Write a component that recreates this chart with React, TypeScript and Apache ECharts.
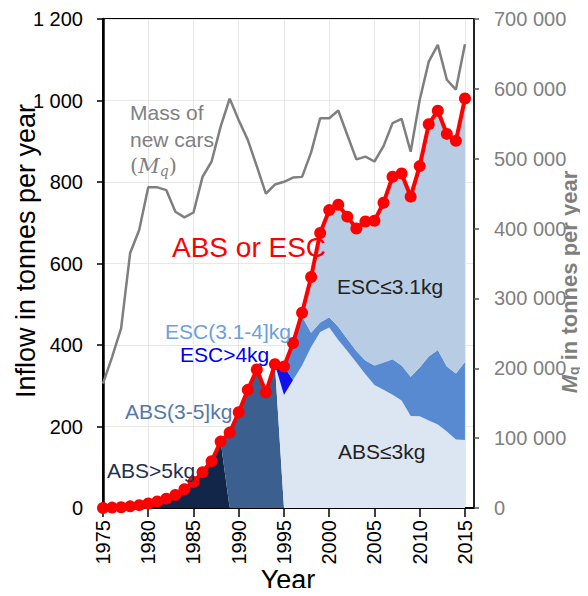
import React, { useEffect, useRef } from "react";
import * as echarts from "echarts";

// x-axis categories (the plot runs one step past the last data year)
const axisYears = [
  "1975", "1976", "1977", "1978", "1979", "1980", "1981", "1982", "1983", "1984",
  "1985", "1986", "1987", "1988", "1989", "1990", "1991", "1992", "1993", "1994",
  "1995", "1996", "1997", "1998", "1999", "2000", "2001", "2002", "2003", "2004",
  "2005", "2006", "2007", "2008", "2009", "2010", "2011", "2012", "2013", "2014",
  "2015", "2016",
];

// Total inflow of ABS or ESC (tonnes per year), 1975–2015
const totalAbsEsc = [
  0, 1, 2, 4, 7, 11, 16, 23, 32, 46,
  64, 88, 115, 163, 185, 235, 290, 340, 284, 353,
  347, 405, 479, 567, 675, 731, 744, 715, 686, 703,
  705, 749, 813, 821, 764, 839, 942, 975, 918, 901, 1005,
];

const absOver5 = [
  0, 1, 2, 4, 7, 11, 16, 23, 32, 46,
  64, 88, 115, 163, 0, 0, 0, 0, 0, 0,
  0, 0, 0, 0, 0, 0, 0, 0, 0, 0,
  0, 0, 0, 0, 0, 0, 0, 0, 0, 0, 0,
];

const abs3to5 = [
  0, 0, 0, 0, 0, 0, 0, 0, 0, 0,
  0, 0, 0, 0, 185, 235, 290, 340, 284, 353,
  0, 0, 0, 0, 0, 0, 0, 0, 0, 0,
  0, 0, 0, 0, 0, 0, 0, 0, 0, 0, 0,
];

const absUnder3 = [
  0, 0, 0, 0, 0, 0, 0, 0, 0, 0,
  0, 0, 0, 0, 0, 0, 0, 0, 0, 0,
  277, 314, 350, 395, 432, 443, 412, 385, 357, 328,
  302, 290, 278, 264, 226, 225, 215, 205, 188, 168, 167,
];

const escOver4 = [
  0, 0, 0, 0, 0, 0, 0, 0, 0, 0,
  0, 0, 0, 0, 0, 0, 0, 0, 0, 0,
  70, 0, 0, 0, 0, 0, 0, 0, 0, 0,
  0, 0, 0, 0, 0, 0, 0, 0, 0, 0, 0,
];

const esc3to4 = [
  0, 0, 0, 0, 0, 0, 0, 0, 0, 0,
  0, 0, 0, 0, 0, 0, 0, 0, 0, 0,
  0, 91, 120, 35, 23, 25, 33, 30, 28, 34,
  48, 67, 87, 86, 96, 120, 157, 183, 159, 162, 191,
];

const escUnder3 = [
  0, 0, 0, 0, 0, 0, 0, 0, 0, 0,
  0, 0, 0, 0, 0, 0, 0, 0, 0, 0,
  0, 0, 9, 137, 220, 263, 299, 300, 301, 341,
  355, 392, 448, 471, 442, 494, 570, 587, 571, 571, 647,
];

// Mass of new cars (tonnes per year, right axis)
const massNewCars = [
  178000, 216000, 257000, 365000, 398000, 459000, 459000, 455000, 424000, 416000,
  423000, 474000, 496000, 546000, 586000, 555000, 527000, 489000, 450000, 463000,
  467000, 473000, 474000, 509000, 558000, 558000, 569000, 534000, 499000, 503000,
  496000, 518000, 551000, 557000, 510000, 584000, 639000, 663000, 613000, 599000, 664000,
];

const FONT = "'Liberation Sans', Arial, Helvetica, sans-serif";

const fmt = (v: number) => String(v).replace(/\B(?=(\d{3})+(?!\d))/g, " ");

export default function App() {
  const ref = useRef<HTMLDivElement>(null);

  useEffect(() => {
    if (!ref.current) return;
    const chart = echarts.init(ref.current, undefined, { renderer: "svg" });

    const area = (name: string, vals: number[], color: string) => ({
      name,
      type: "line",
      stack: "inflow",
      data: vals,
      symbol: "none",
      showSymbol: false,
      lineStyle: { width: 0, color, opacity: 0 },
      itemStyle: { color },
      areaStyle: { color, opacity: 1 },
      z: 1,
    });

    const txt = (text: string, x: number, y: number, fill: string, size: number) => ({
      type: "text",
      x,
      y,
      z: 100,
      style: {
        text,
        fill,
        font: `${size}px ${FONT}`,
        textAlign: "left",
        textVerticalAlign: "middle",
      },
    });

    const grayRich = (size: number, extra: any = {}) => ({
      fontSize: size,
      fontWeight: "bold",
      fontFamily: FONT,
      fill: "#7f7f7f",
      color: "#7f7f7f",
      lineHeight: 24,
      ...extra,
    });

    chart.setOption({
      animation: false,
      backgroundColor: "#fff",
      grid: {
        left: 103,
        right: 114,
        top: 19,
        bottom: 88,
        show: true,
        borderColor: "#000",
        borderWidth: 2,
        backgroundColor: "transparent",
      },
      xAxis: {
        type: "category",
        data: axisYears,
        boundaryGap: false,
        axisLine: { show: true, lineStyle: { color: "#000", width: 2 } },
        axisTick: { show: true, interval: 4, length: 9, lineStyle: { color: "#000", width: 1.5 } },
        axisLabel: {
          interval: 4,
          rotate: 90,
          margin: 12,
          fontSize: 20,
          color: "#000",
          fontFamily: FONT,
        },
        splitLine: { show: true, interval: 4, lineStyle: { color: "#e8e8e8", width: 1 } },
      },
      yAxis: [
        {
          type: "value",
          position: "left",
          min: 0,
          max: 1200,
          interval: 200,
          axisLine: { show: true, lineStyle: { color: "#000", width: 2.5 } },
          axisTick: { show: true, length: 6, lineStyle: { color: "#000", width: 1.5 } },
          axisLabel: { margin: 20, fontSize: 20, color: "#000", fontFamily: FONT, formatter: fmt },
          splitLine: { show: true, lineStyle: { color: "#e8e8e8", width: 1 } },
        },
        {
          type: "value",
          position: "right",
          min: 0,
          max: 700000,
          interval: 100000,
          axisLine: { show: true, lineStyle: { color: "#222", width: 2 } },
          axisTick: { show: true, length: 5, lineStyle: { color: "#555", width: 1.5 } },
          axisLabel: { margin: 20, fontSize: 20, color: "#7f7f7f", fontFamily: FONT, formatter: fmt },
          splitLine: { show: false },
        },
      ],
      series: [
        area("ABS>5kg", absOver5, "#12264a"),
        area("ABS(3-5]kg", abs3to5, "#3b5f8e"),
        area("ABS≤3kg", absUnder3, "#dce6f2"),
        area("ESC>4kg", escOver4, "#1010f0"),
        area("ESC(3.1-4]kg", esc3to4, "#588ad2"),
        area("ESC≤3.1kg", escUnder3, "#b8cce4"),
        {
          name: "Mass of new cars",
          type: "line",
          yAxisIndex: 1,
          data: massNewCars,
          symbol: "none",
          showSymbol: false,
          lineStyle: { color: "#7f7f7f", width: 2.5 },
          itemStyle: { color: "#7f7f7f" },
          z: 3,
        },
        {
          name: "ABS or ESC",
          type: "line",
          data: totalAbsEsc,
          symbol: "circle",
          symbolSize: 12,
          showAllSymbol: true,
          lineStyle: { color: "#ff0000", width: 4 },
          itemStyle: { color: "#ff0000" },
          z: 4,
        },
      ],
      graphic: [
        txt("Mass of", 130, 112, "#808080", 21),
        txt("new cars", 130, 139, "#808080", 21),
        {
          type: "text",
          x: 130,
          y: 166,
          z: 100,
          style: {
            text: "{p|(}{m|M}{q|q}{p|)}",
            textVerticalAlign: "middle",
            rich: {
              p: { fontSize: 21, fontFamily: "'DejaVu Serif', serif", fill: "#808080", color: "#808080" },
              m: { fontSize: 21, fontStyle: "italic", fontFamily: "'DejaVu Serif', serif", fill: "#808080", color: "#808080" },
              q: {
                fontSize: 14,
                fontStyle: "italic",
                fontFamily: "'DejaVu Serif', serif",
                fill: "#808080",
                color: "#808080",
                padding: [10, 0, 0, 0],
              },
            },
          },
        },
        txt("ABS or ESC", 172, 247, "#ff0000", 28),
        txt("ESC≤3.1kg", 337, 286, "#222222", 21),
        txt("ABS≤3kg", 338, 451, "#222222", 21),
        txt("ESC(3.1-4]kg", 165, 331, "#6c9fde", 21),
        txt("ESC>4kg", 180, 354, "#0000ee", 21),
        txt("ABS(3-5]kg", 125, 411, "#5577aa", 21),
        txt("ABS>5kg", 107, 470, "#22304f", 21),
        {
          type: "text",
          x: 26,
          y: 251,
          rotation: Math.PI / 2,
          z: 100,
          style: {
            text: "Inflow in tonnes per year",
            fill: "#000",
            font: `27px ${FONT}`,
            textAlign: "center",
            textVerticalAlign: "middle",
          },
        },
        {
          type: "text",
          x: 288,
          y: 580,
          z: 100,
          style: {
            text: "Year",
            fill: "#000",
            font: `27px ${FONT}`,
            textAlign: "center",
            textVerticalAlign: "middle",
          },
        },
        {
          type: "text",
          x: 569,
          y: 282,
          rotation: Math.PI / 2,
          z: 100,
          style: {
            text: "{m|M}{q|q}{t| in tonnes per year}",
            textAlign: "center",
            textVerticalAlign: "middle",
            rich: {
              m: grayRich(22, { fontStyle: "italic" }),
              q: grayRich(14, { verticalAlign: "bottom" }),
              t: grayRich(22),
            },
          },
        },
      ],
    });

    return () => {
      chart.dispose();
    };
  }, []);

  return <div ref={ref} style={{ width: 588, height: 596, margin: -8 }} />;
}
